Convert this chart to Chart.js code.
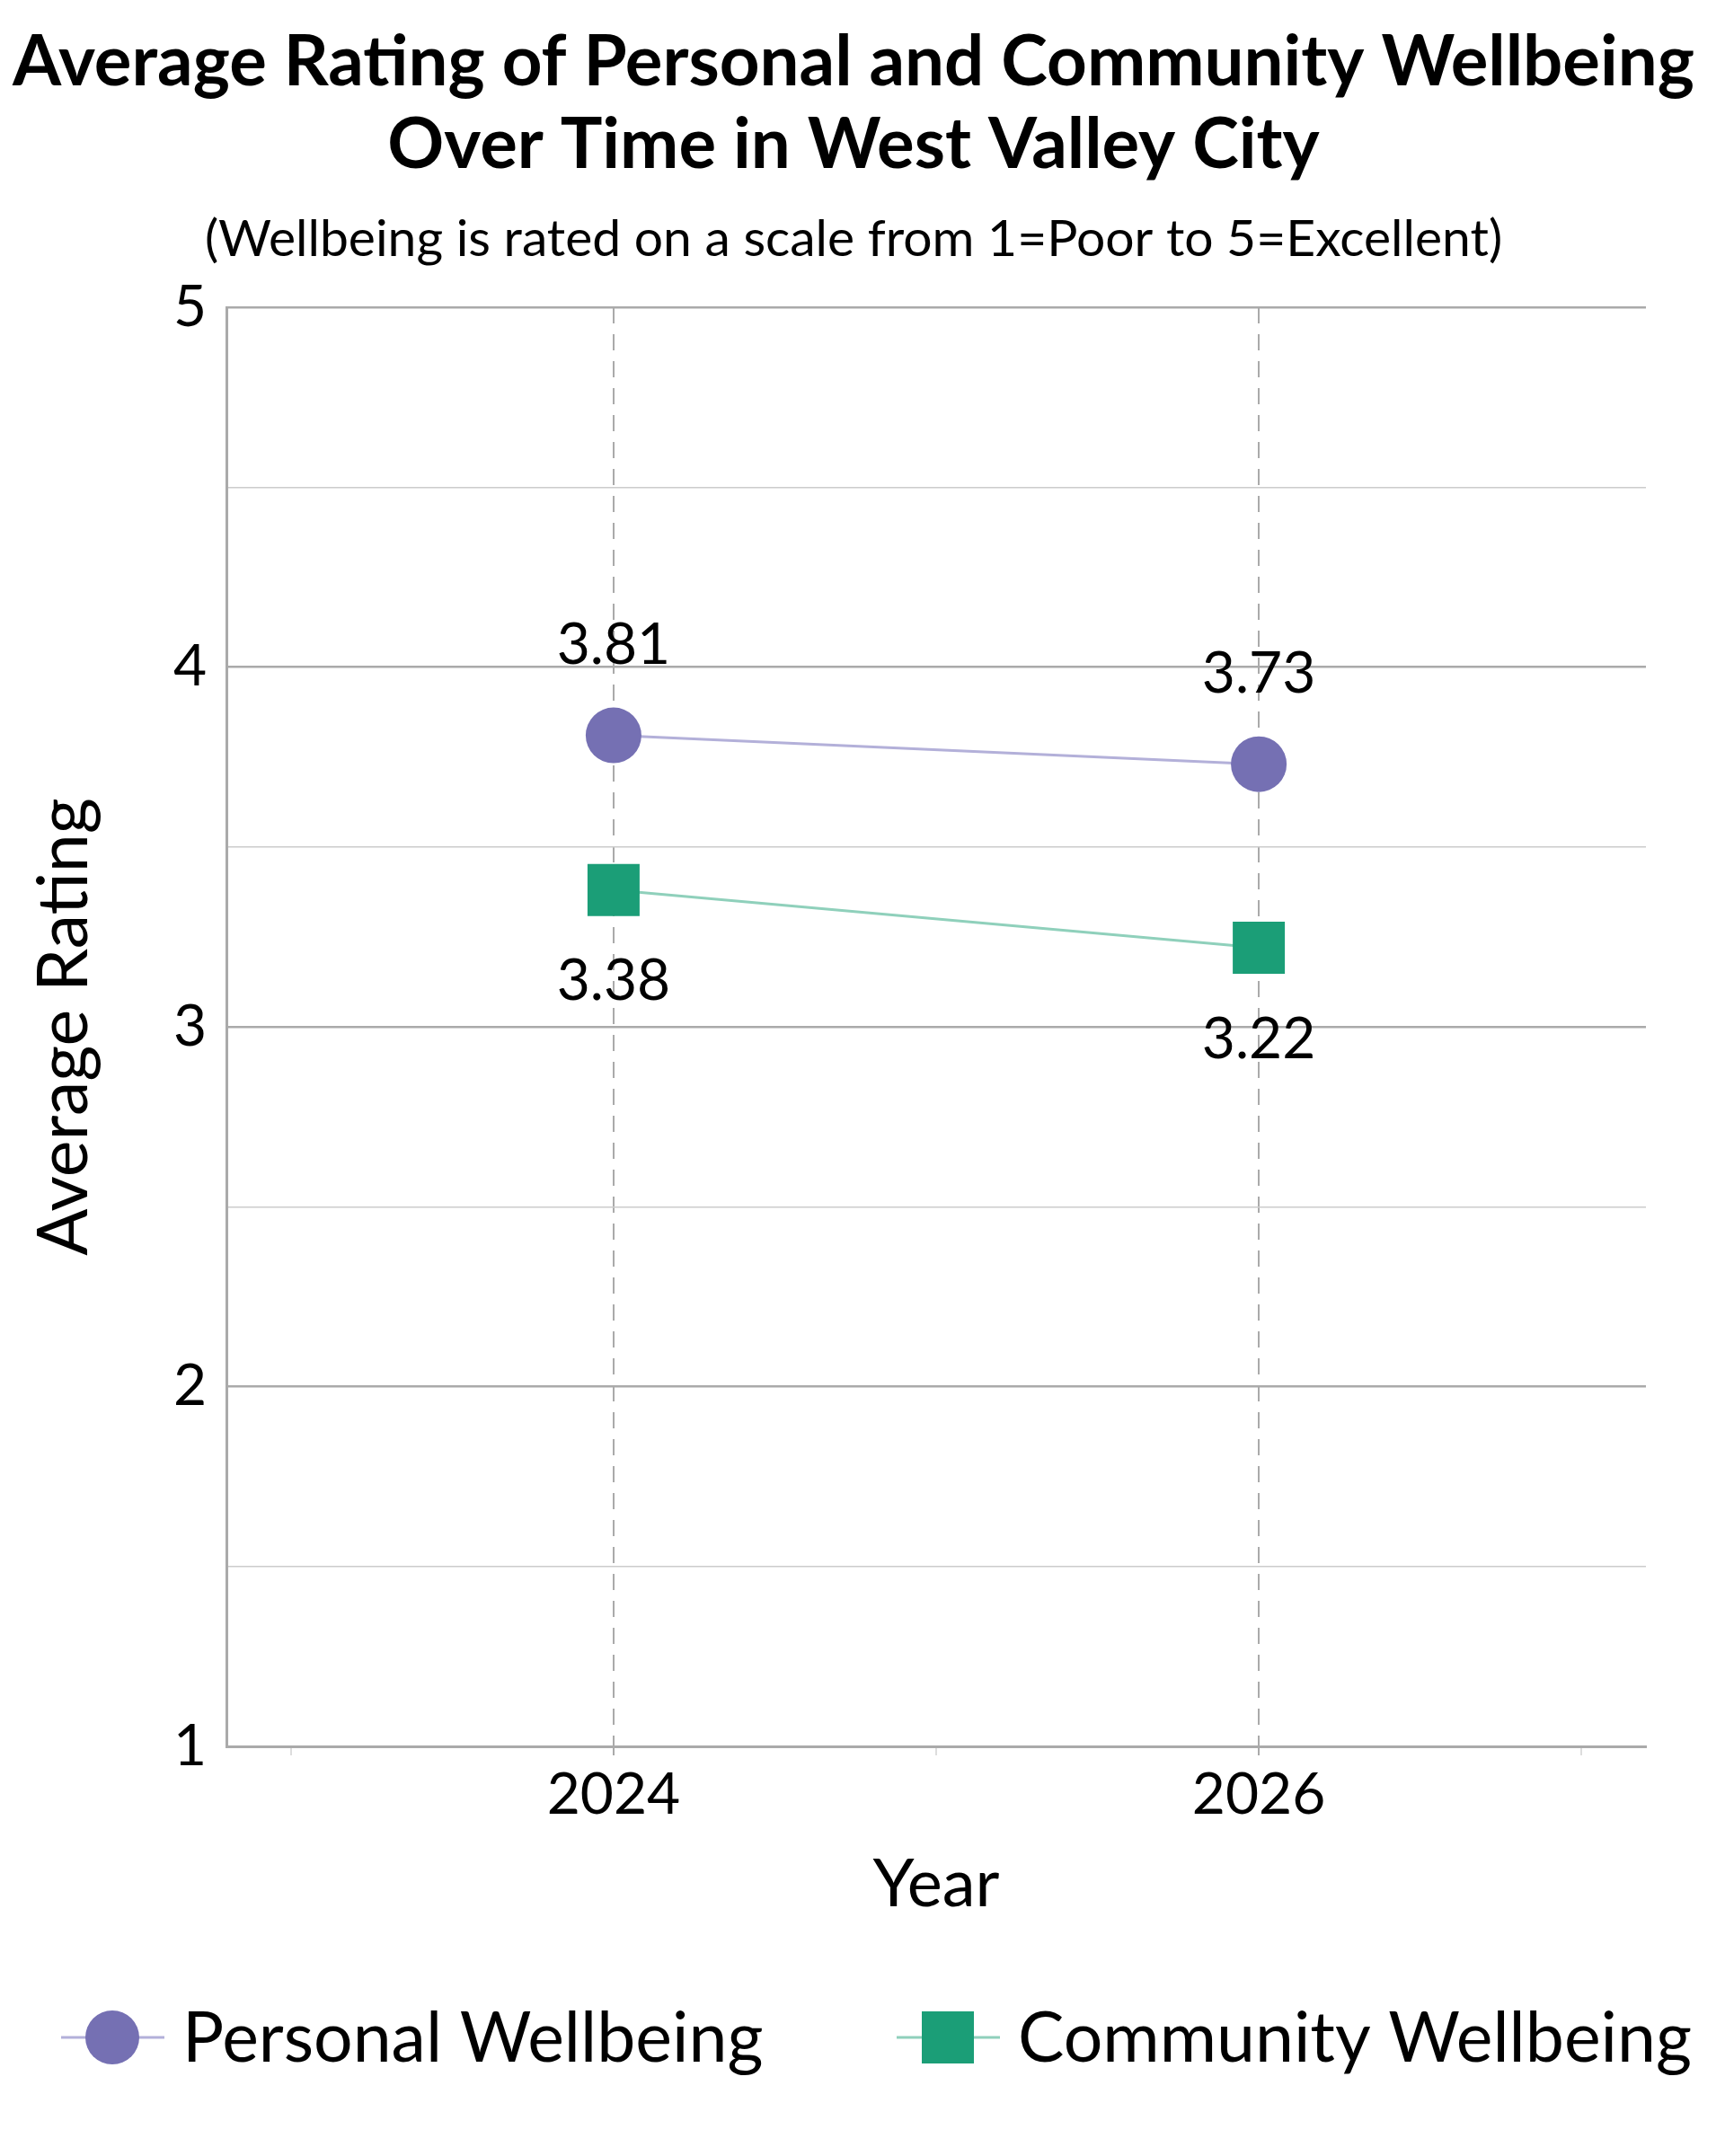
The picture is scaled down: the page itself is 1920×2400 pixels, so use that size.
<!DOCTYPE html>
<html><head><meta charset="utf-8">
<script src="https://cdn.jsdelivr.net/npm/chart.js@4"></script>
<style>html,body{margin:0;padding:0;background:#fff}#w{width:1920px;height:2400px}</style>
</head><body><div id="w"><canvas id="c"></canvas></div>
<script>
const years = [2024, 2026];
const personal = [3.81, 3.73];
const community = [3.38, 3.22];
const yTicks = [1, 2, 3, 4, 5];
const FONT = 'Lato, "Open Sans", sans-serif';

const textPlugin = {
  id: 'texts',
  afterDraw(chart) {
    const ctx = chart.ctx, a = chart.chartArea;
    ctx.save();
    ctx.fillStyle = '#000';
    ctx.textAlign = 'center'; ctx.textBaseline = 'middle';
    ctx.font = 'bold 78px ' + FONT;
    ctx.fillText('Average Rating of Personal and Community Wellbeing', 950, 70);
    ctx.fillText('Over Time in West Valley City', 950, 162);
    ctx.font = '57px ' + FONT;
    ctx.fillText('(Wellbeing is rated on a scale from 1=Poor to 5=Excellent)', 950, 267);
    ctx.font = '74px ' + FONT;
    ctx.fillText('Year', (a.left + a.right) / 2, 2098);
    ctx.save(); ctx.translate(72, (a.top + a.bottom) / 2); ctx.rotate(-Math.PI / 2);
    ctx.font = '77px ' + FONT;
    ctx.fillText('Average Rating', 0, 0); ctx.restore();
    ctx.font = '64px ' + FONT;
    chart.getDatasetMeta(0).data.forEach((p, i) => ctx.fillText(personal[i].toFixed(2), p.x, p.y - 100));
    chart.getDatasetMeta(1).data.forEach((p, i) => ctx.fillText(community[i].toFixed(2), p.x, p.y + 102));
    const ly = 2268;
    const items = [
      {x: 68, label: 'Personal Wellbeing', line: '#b3b0d9', col: '#7570b3', shape: 'c'},
      {x: 998, label: 'Community Wellbeing', line: '#8fd0bb', col: '#1b9e77', shape: 's'}
    ];
    items.forEach(it => {
      ctx.strokeStyle = it.line; ctx.lineWidth = 3;
      ctx.beginPath(); ctx.moveTo(it.x, ly); ctx.lineTo(it.x + 115, ly); ctx.stroke();
      ctx.fillStyle = it.col;
      const cx = it.x + 57;
      if (it.shape === 'c') { ctx.beginPath(); ctx.arc(cx, ly, 30, 0, Math.PI * 2); ctx.fill(); }
      else ctx.fillRect(cx - 29, ly - 29, 58, 58);
      ctx.fillStyle = '#000'; ctx.textAlign = 'left';
      ctx.font = '77px ' + FONT;
      ctx.fillText(it.label, it.x + 135, ly + 2);
    });
    ctx.restore();
  }
};

new Chart(document.getElementById('c'), {
  type: 'line',
  data: {
    datasets: [
      {label: 'Personal Wellbeing', data: years.map((y, i) => ({x: y, y: personal[i]})),
       borderColor: '#b3b0d9', borderWidth: 3, pointStyle: 'circle', pointRadius: 31,
       pointBackgroundColor: '#7570b3', pointBorderWidth: 0},
      {label: 'Community Wellbeing', data: years.map((y, i) => ({x: y, y: community[i]})),
       borderColor: '#8fd0bb', borderWidth: 3, pointStyle: 'rect', pointRadius: 41,
       pointBackgroundColor: '#1b9e77', pointBorderWidth: 0}
    ]
  },
  options: {
    responsive: true, maintainAspectRatio: false, animation: false,
    layout: {padding: {left: 0, right: 88, top: 342, bottom: 256}},
    plugins: {legend: {display: false}, tooltip: {enabled: false}},
    scales: {
      x: {
        type: 'linear', min: 2022.8, max: 2027.2,
        afterBuildTicks: s => { s.ticks = [2023, 2024, 2025, 2026, 2027].map(v => ({value: v})); },
        afterFit: s => { s.height = 200; },
        grid: {
          color: c => (c.tick && c.tick.value % 2 === 0) ? '#aaa' : 'rgba(0,0,0,0)',
          lineWidth: 2, drawOnChartArea: true, tickLength: 10,
          tickColor: c => (c.tick && c.tick.value % 2 === 0) ? '#aaa' : '#ddd'
        },
        border: {color: '#aaa', width: 3, dash: [18, 12]},
        ticks: {
          callback: v => (v % 2 === 0 ? String(v) : ''),
          font: {size: 64, family: FONT}, color: '#000', padding: 6, autoSkip: false, maxRotation: 0
        }
      },
      y: {
        min: 1, max: 5,
        afterBuildTicks: s => { s.ticks = [1, 1.5, 2, 2.5, 3, 3.5, 4, 4.5, 5].map(v => ({value: v})); },
        afterFit: s => { s.width = 252; },
        border: {color: '#aaa', width: 3},
        grid: {color: c => (c.tick && Number.isInteger(c.tick.value)) ? '#aaa' : '#ccc',
               lineWidth: c => (c.tick && Number.isInteger(c.tick.value)) ? 2.5 : 1.5, tickLength: 0},
        ticks: {callback: v => (yTicks.includes(v) ? String(v) : ''),
                font: {size: 64, family: FONT}, color: '#000', padding: 22, autoSkip: false}
      }
    }
  },
  plugins: [textPlugin]
});
</script></body></html>
